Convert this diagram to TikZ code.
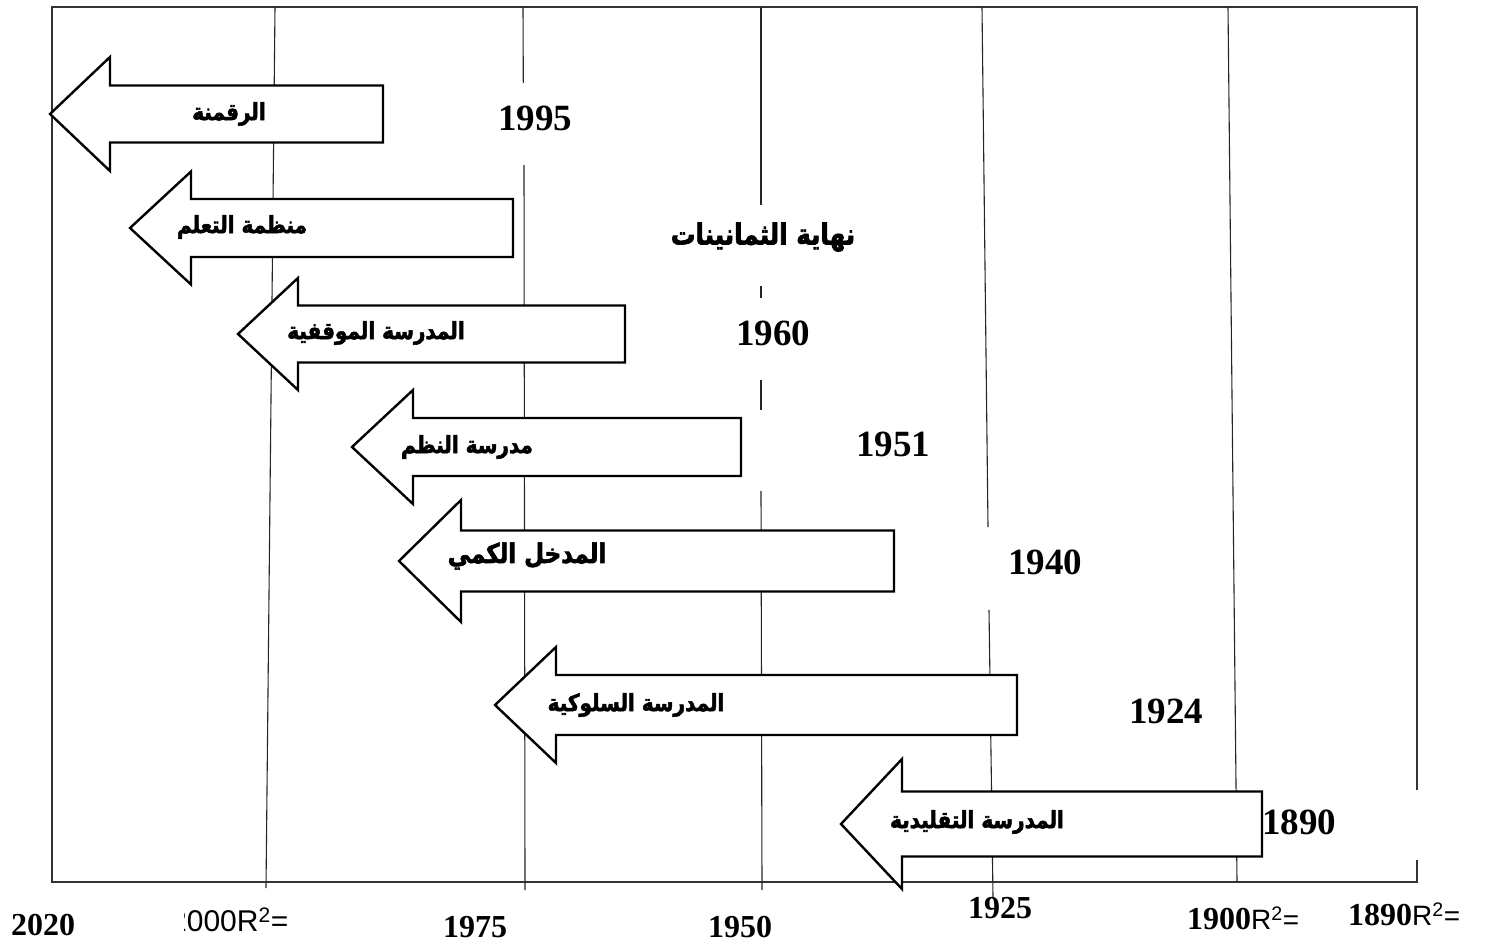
\documentclass[tikz,border=0pt]{standalone}
\usepackage{fontspec}
\TeXXeTstate=1
\setmainfont{Liberation Serif}
\newfontfamily\arabicfont[Script=Arabic, FakeBold=2.2, FakeStretch=0.85]{DejaVu Sans Bold}
\newfontfamily\latinsans{Liberation Sans}

% left-pointing block arrow: tip x, right x, centre y, head length, head half-height, shaft half-height
\newcommand\histarrow[6]{%
  \draw[arrowline] (#1,#3) -- ({#1+#4},{#3-#5}) -- ({#1+#4},{#3-#6}) -- (#2,{#3-#6})
    -- (#2,{#3+#6}) -- ({#1+#4},{#3+#6}) -- ({#1+#4},{#3+#5}) -- cycle;}

\tikzset{
  frameline/.style={draw=black!80, line width=1.3pt},
  gridline/.style={draw=black!85, line width=1.1pt},
  arrowline/.style={draw=black, fill=white, line width=2.4pt, line join=miter},
  schoollabel/.style={font=\arabicfont\fontsize{23.5}{26}\selectfont, inner sep=0pt},
  yearlabel/.style={font=\bfseries\fontsize{37}{40}\selectfont, inner sep=0pt},
  axislabel/.style={font=\bfseries\fontsize{32}{36}\selectfont, inner sep=0pt},
}

\begin{document}
\begin{tikzpicture}[x=1pt, y=-1pt]
\useasboundingbox (0,0) rectangle (1485,947);
\fill[white] (0,0) rectangle (1485,947);

% frame
\draw[frameline] (1417,790) -- (1417,7) -- (52,7) -- (52,882) -- (1417,882) -- (1417,860);

% period lines
\draw[gridline] (275,7) -- (266,888);
\draw[gridline] (523,7) -- (523.3,83);
\draw[gridline] (524,165) -- (525,890);
\draw[gridline] (761,7) -- (761,205);
\draw[gridline] (761,286) -- (761,298);
\draw[gridline] (761,380) -- (761,410);
\draw[gridline] (761,491) -- (762,890);
\draw[gridline] (982,7) -- (988,527);
\draw[gridline] (989,610) -- (993,897);
\draw[gridline] (1228,7) -- (1237,882);

% schools of thought
\histarrow{50}{383}{114}{60}{57}{28.5}
\histarrow{130}{513}{228}{61}{56.5}{29}
\histarrow{238}{625}{334}{60}{56}{28.5}
\histarrow{352}{741}{447}{61}{57}{29}
\histarrow{399}{894}{561}{62}{61}{30.5}
\histarrow{495}{1017}{705}{61}{58}{30}
\histarrow{841}{1262}{824}{61}{65}{32.5}

\node[schoollabel] (s1) at (229,114) {\beginR الرقمنة\endR};
\node[schoollabel] (s2) at (242,227) {\beginR منظمة التعلم\endR};
\node[schoollabel] (s3) at (376,333) {\beginR المدرسة الموقفية\endR};
\node[schoollabel] (s4) at (467,447) {\beginR مدرسة النظم\endR};
\node[schoollabel, font=\arabicfont\fontsize{27}{30}\selectfont] (s5) at (527,556) {\beginR المدخل الكمي\endR};
\node[schoollabel] (s6) at (636,705) {\beginR المدرسة السلوكية\endR};
\node[schoollabel] (s7) at (977,822) {\beginR المدرسة التقليدية\endR};

% start years
\node[yearlabel] (y1995) at (535,118) {1995};
\node[schoollabel, font=\arabicfont\fontsize{29}{32}\selectfont] (y80s) at (763,237) {\beginR نهاية الثمانينات\endR};
\node[yearlabel] (y1960) at (773,333) {1960};
\node[yearlabel] (y1951) at (893,444) {1951};
\node[yearlabel] (y1940) at (1045,562) {1940};
\node[yearlabel] (y1924) at (1166,711) {1924};
\node[yearlabel] (y1890) at (1299,822) {1890};

% time axis
\node[axislabel] (a2020) at (43,925) {2020};
\begin{scope}
  \clip (184,895) rectangle (310,945);
  \node[inner sep=0pt, anchor=west, font=\latinsans\fontsize{30}{34}\selectfont] (a2000) at (170,920) {2000R\textsuperscript{2}=};
\end{scope}
\node[axislabel] (a1975) at (475,927) {1975};
\node[axislabel] (a1950) at (740,927) {1950};
\node[axislabel] (a1925) at (1000,908) {1925};
\node[inner sep=0pt, anchor=west] (a1900) at (1187,918) {\bfseries\fontsize{32}{36}\selectfont 1900{\mdseries\latinsans\fontsize{28}{32}\selectfont R\textsuperscript{2}=}};
\node[inner sep=0pt, anchor=west] (a1890) at (1348,914) {\bfseries\fontsize{32}{36}\selectfont 1890{\mdseries\latinsans\fontsize{28}{32}\selectfont R\textsuperscript{2}=}};
\end{tikzpicture}
\end{document}
